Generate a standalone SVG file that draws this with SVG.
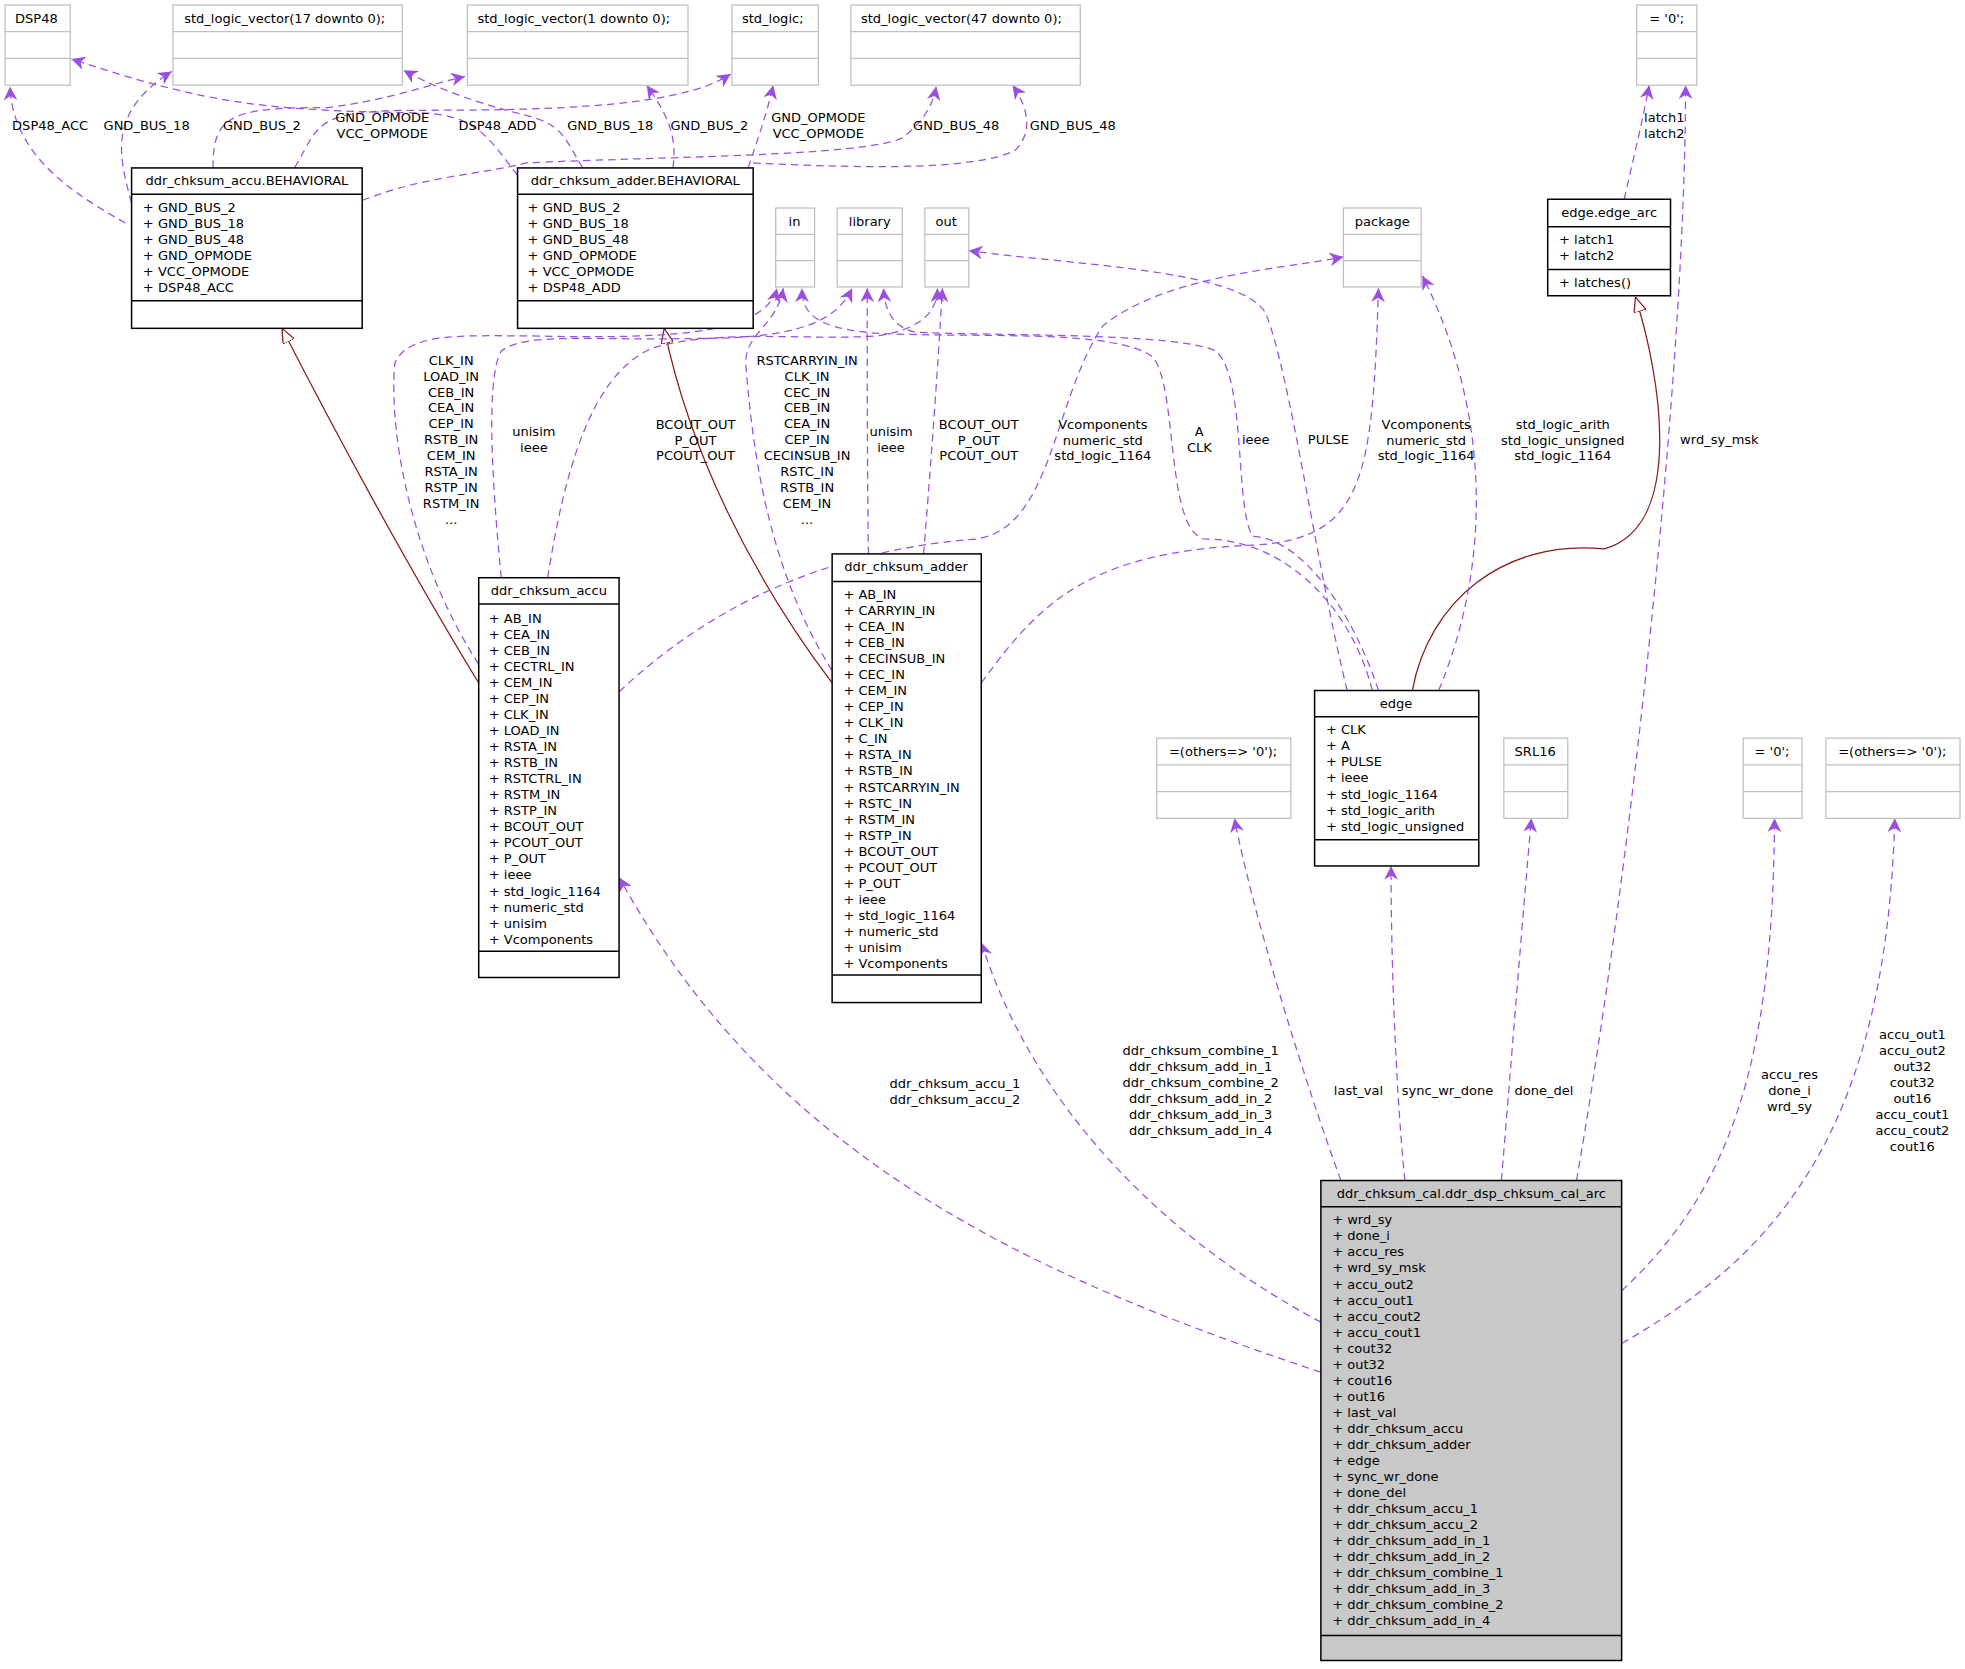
<svg xmlns="http://www.w3.org/2000/svg" width="1965" height="1669" viewBox="0 0 1965 1669">
<defs>
<style>
text{font-family:"DejaVu Sans","Liberation Sans",sans-serif;font-size:10.4px;fill:#000}
.g{fill:#fff;stroke:#bfbfbf;stroke-width:1}
.b{fill:#fff;stroke:#000;stroke-width:1.2}
.gr{fill:#c8c8c8;stroke:#000;stroke-width:1.2}
.d{fill:none;stroke:#9a4fe0;stroke-width:1;stroke-dasharray:6,4}
.h{fill:none;stroke:#8b1a1a;stroke-width:1}
.c{text-anchor:middle}
</style>
<marker id="a" viewBox="0 0 10 10" refX="10" refY="5" markerWidth="11" markerHeight="11" markerUnits="userSpaceOnUse" orient="auto"><path d="M0,0 L10,5 L0,10 L3,5 z" fill="#9a4fe0"/></marker>
<marker id="t" viewBox="0 0 12 10" refX="12" refY="5" markerWidth="12" markerHeight="10" markerUnits="userSpaceOnUse" orient="auto"><path d="M0,0 L12,5 L0,10 z" fill="#fff" stroke="#8b1a1a"/></marker>
</defs>
<rect width="1965" height="1669" fill="#fff"/>
<g transform="scale(1.2532)">
<g id="connectors">
<path class="d" marker-end="url(#a)" d="M100,178 C60,155 10,125 8,69"/>
<path class="d" marker-end="url(#a)" d="M105,162 C95,125 85,90 137,57"/>
<path class="d" marker-end="url(#a)" d="M170,134 C170,95 180,85 260,86 C310,80 340,68 371,61"/>
<path class="d" marker-end="url(#a)" d="M235,134 C255,100 250,90 320,88 C420,88 540,88 583,59"/>
<path class="d" marker-end="url(#a)" d="M413,140 C390,110 380,90 330,90 C220,88 170,85 57,47"/>
<path class="d" marker-end="url(#a)" d="M465,134 C450,110 450,100 420,92 C390,85 350,72 322,56"/>
<path class="d" marker-end="url(#a)" d="M537,134 C540,110 535,95 516,68"/>
<path class="d" marker-end="url(#a)" d="M597,134 C605,110 612,90 617,68"/>
<path class="d" marker-end="url(#a)" d="M289,160 C340,140 380,140 420,130 C520,125 690,125 720,110 C740,95 745,80 747,69"/>
<path class="d" marker-end="url(#a)" d="M601,130 C700,135 780,135 810,120 C825,105 820,85 808,68"/>
<path class="d" marker-end="url(#a)" d="M1296,159 C1305,120 1312,90 1316,68"/>
<path class="d" marker-end="url(#a)" d="M1258,942 C1300,700 1345,300 1345,68"/>
<path class="h" marker-end="url(#t)" d="M1127,551 C1140,480 1200,430 1280,438 C1345,420 1325,300 1305,237"/>
<path class="h" marker-end="url(#t)" d="M382,545 C330,460 270,350 225,262"/>
<path class="h" marker-end="url(#t)" d="M664,545 C600,460 550,360 530,262"/>
<path class="d" marker-end="url(#a)" d="M382,530 C330,450 310,350 315,290 C325,265 370,268 420,268 C520,270 610,270 620,230"/>
<path class="d" marker-end="url(#a)" d="M400,461 C392,380 388,300 400,280 C420,265 470,272 560,270 C650,270 670,250 680,230"/>
<path class="d" marker-end="url(#a)" d="M437,461 C450,380 470,300 520,278 C570,262 650,272 700,268 C740,262 748,245 748,230"/>
<path class="d" marker-end="url(#a)" d="M494,552 C560,490 650,440 780,430 C840,420 840,320 880,260 C930,220 1020,215 1072,205"/>
<path class="d" marker-end="url(#a)" d="M664,535 C610,450 600,350 595,290 C595,265 620,260 625,230"/>
<path class="d" marker-end="url(#a)" d="M693,442 C692,380 692,300 692,230"/>
<path class="d" marker-end="url(#a)" d="M737,442 C742,380 748,300 752,230"/>
<path class="d" marker-end="url(#a)" d="M783,545 C830,480 870,440 1000,435 C1090,430 1095,380 1100,230"/>
<path class="d" marker-end="url(#a)" d="M1095,551 C1080,490 1030,430 960,430 C930,420 940,310 920,285 C890,262 780,270 700,266 C650,262 640,250 640,230"/>
<path class="d" marker-end="url(#a)" d="M1100,551 C1080,490 1040,430 1000,428 C985,410 995,300 970,280 C940,265 780,268 730,265 C710,260 706,245 705,230"/>
<path class="d" marker-end="url(#a)" d="M1075,551 C1050,450 1030,300 1010,250 C990,215 860,212 773,200"/>
<path class="d" marker-end="url(#a)" d="M1148,551 C1190,450 1190,330 1135,220"/>
<path class="d" marker-end="url(#a)" d="M1070,942 C1040,860 1000,730 985,653"/>
<path class="d" marker-end="url(#a)" d="M1121,942 C1113,860 1110,760 1110,691"/>
<path class="d" marker-end="url(#a)" d="M1198,942 C1205,860 1215,730 1222,653"/>
<path class="d" marker-end="url(#a)" d="M1294,1030 C1380,950 1415,850 1416,653"/>
<path class="d" marker-end="url(#a)" d="M1294,1072 C1420,1000 1505,900 1512,653"/>
<path class="d" marker-end="url(#a)" d="M1054,1095 C830,1020 620,930 494,700"/>
<path class="d" marker-end="url(#a)" d="M1054,1055 C950,1000 830,900 783,752"/>
<g id="labels">
<text x="40" y="104" class="c">DSP48_ACC</text>
<text x="117" y="104" class="c">GND_BUS_18</text>
<text x="209" y="104" class="c">GND_BUS_2</text>
<text x="305" y="97" class="c">GND_OPMODE</text><text x="305" y="110" class="c">VCC_OPMODE</text>
<text x="397" y="104" class="c">DSP48_ADD</text>
<text x="487" y="104" class="c">GND_BUS_18</text>
<text x="566" y="104" class="c">GND_BUS_2</text>
<text x="653" y="97" class="c">GND_OPMODE</text><text x="653" y="110" class="c">VCC_OPMODE</text>
<text x="763" y="104" class="c">GND_BUS_48</text>
<text x="856" y="104" class="c">GND_BUS_48</text>
<text x="1328" y="97" class="c">latch1</text><text x="1328" y="110" class="c">latch2</text>
<text x="1372" y="354" class="c">wrd_sy_msk</text>
<text class="c"><tspan x="360" y="291">CLK_IN</tspan><tspan x="360" dy="12.7">LOAD_IN</tspan><tspan x="360" dy="12.7">CEB_IN</tspan><tspan x="360" dy="12.7">CEA_IN</tspan><tspan x="360" dy="12.7">CEP_IN</tspan><tspan x="360" dy="12.7">RSTB_IN</tspan><tspan x="360" dy="12.7">CEM_IN</tspan><tspan x="360" dy="12.7">RSTA_IN</tspan><tspan x="360" dy="12.7">RSTP_IN</tspan><tspan x="360" dy="12.7">RSTM_IN</tspan><tspan x="360" dy="12.7">...</tspan></text>
<text class="c"><tspan x="426" y="348">unisim</tspan><tspan x="426" dy="12.7">ieee</tspan></text>
<text class="c"><tspan x="555" y="342">BCOUT_OUT</tspan><tspan x="555" dy="12.7">P_OUT</tspan><tspan x="555" dy="12.7">PCOUT_OUT</tspan></text>
<text class="c"><tspan x="644" y="291">RSTCARRYIN_IN</tspan><tspan x="644" dy="12.7">CLK_IN</tspan><tspan x="644" dy="12.7">CEC_IN</tspan><tspan x="644" dy="12.7">CEB_IN</tspan><tspan x="644" dy="12.7">CEA_IN</tspan><tspan x="644" dy="12.7">CEP_IN</tspan><tspan x="644" dy="12.7">CECINSUB_IN</tspan><tspan x="644" dy="12.7">RSTC_IN</tspan><tspan x="644" dy="12.7">RSTB_IN</tspan><tspan x="644" dy="12.7">CEM_IN</tspan><tspan x="644" dy="12.7">...</tspan></text>
<text class="c"><tspan x="711" y="348">unisim</tspan><tspan x="711" dy="12.7">ieee</tspan></text>
<text class="c"><tspan x="781" y="342">BCOUT_OUT</tspan><tspan x="781" dy="12.7">P_OUT</tspan><tspan x="781" dy="12.7">PCOUT_OUT</tspan></text>
<text class="c"><tspan x="880" y="342">Vcomponents</tspan><tspan x="880" dy="12.7">numeric_std</tspan><tspan x="880" dy="12.7">std_logic_1164</tspan></text>
<text class="c"><tspan x="957" y="348">A</tspan><tspan x="957" dy="12.7">CLK</tspan></text>
<text x="1002" y="354" class="c">ieee</text>
<text x="1060" y="354" class="c">PULSE</text>
<text class="c"><tspan x="1138" y="342">Vcomponents</tspan><tspan x="1138" dy="12.7">numeric_std</tspan><tspan x="1138" dy="12.7">std_logic_1164</tspan></text>
<text class="c"><tspan x="1247" y="342">std_logic_arith</tspan><tspan x="1247" dy="12.7">std_logic_unsigned</tspan><tspan x="1247" dy="12.7">std_logic_1164</tspan></text>
<text x="1084" y="874" class="c">last_val</text>
<text x="1155" y="874" class="c">sync_wr_done</text>
<text x="1232" y="874" class="c">done_del</text>
<text class="c"><tspan x="1428" y="861">accu_res</tspan><tspan x="1428" dy="12.7">done_i</tspan><tspan x="1428" dy="12.7">wrd_sy</tspan></text>
<text class="c"><tspan x="1526" y="829">accu_out1</tspan><tspan x="1526" dy="12.8">accu_out2</tspan><tspan x="1526" dy="12.8">out32</tspan><tspan x="1526" dy="12.8">cout32</tspan><tspan x="1526" dy="12.8">out16</tspan><tspan x="1526" dy="12.8">accu_cout1</tspan><tspan x="1526" dy="12.8">accu_cout2</tspan><tspan x="1526" dy="12.8">cout16</tspan></text>
<text class="c"><tspan x="762" y="868">ddr_chksum_accu_1</tspan><tspan x="762" dy="12.8">ddr_chksum_accu_2</tspan></text>
<text class="c"><tspan x="958" y="842">ddr_chksum_combine_1</tspan><tspan x="958" dy="12.8">ddr_chksum_add_in_1</tspan><tspan x="958" dy="12.8">ddr_chksum_combine_2</tspan><tspan x="958" dy="12.8">ddr_chksum_add_in_2</tspan><tspan x="958" dy="12.8">ddr_chksum_add_in_3</tspan><tspan x="958" dy="12.8">ddr_chksum_add_in_4</tspan></text>
</g>
</g>
<g id="DSP48"><rect class="g" x="4" y="4" width="52" height="64"/><path class="g" d="M4,25.3H56M4,46.6H56"/><text x="12" y="18">DSP48</text></g>
<g id="slv17"><rect class="g" x="138" y="4" width="183" height="64"/><path class="g" d="M138,25.3H321M138,46.6H321"/><text x="147" y="18">std_logic_vector(17 downto 0);</text></g>
<g id="slv1"><rect class="g" x="373" y="4" width="176" height="64"/><path class="g" d="M373,25.3H549M373,46.6H549"/><text x="381" y="18">std_logic_vector(1 downto 0);</text></g>
<g id="stdlogic"><rect class="g" x="584" y="4" width="69" height="64"/><path class="g" d="M584,25.3H653M584,46.6H653"/><text x="592" y="18">std_logic;</text></g>
<g id="slv47"><rect class="g" x="679" y="4" width="183" height="64"/><path class="g" d="M679,25.3H862M679,46.6H862"/><text x="687" y="18">std_logic_vector(47 downto 0);</text></g>
<g id="zero_top"><rect class="g" x="1306" y="4" width="48" height="64"/><path class="g" d="M1306,25.3H1354M1306,46.6H1354"/><text x="1330" y="18" class="c">= '0';</text></g>
<g id="in"><rect class="g" x="619" y="166" width="31" height="63"/><path class="g" d="M619,187H650M619,208H650"/><text x="634" y="180" class="c">in</text></g>
<g id="library"><rect class="g" x="668" y="166" width="52" height="63"/><path class="g" d="M668,187H720M668,208H720"/><text x="694" y="180" class="c">library</text></g>
<g id="out"><rect class="g" x="738" y="166" width="35" height="63"/><path class="g" d="M738,187H773M738,208H773"/><text x="755" y="180" class="c">out</text></g>
<g id="package"><rect class="g" x="1072" y="166" width="62" height="63"/><path class="g" d="M1072,187H1134M1072,208H1134"/><text x="1103" y="180" class="c">package</text></g>
<g id="accu_beh"><rect class="b" x="105" y="134" width="184" height="128"/><path class="b" d="M105,155H289M105,240H289"/><text x="197" y="148" class="c">ddr_chksum_accu.BEHAVIORAL</text>
<text><tspan x="114" y="169">+ GND_BUS_2</tspan><tspan x="114" dy="12.8">+ GND_BUS_18</tspan><tspan x="114" dy="12.8">+ GND_BUS_48</tspan><tspan x="114" dy="12.8">+ GND_OPMODE</tspan><tspan x="114" dy="12.8">+ VCC_OPMODE</tspan><tspan x="114" dy="12.8">+ DSP48_ACC</tspan></text></g>
<g id="adder_beh"><rect class="b" x="413" y="134" width="188" height="128"/><path class="b" d="M413,155H601M413,240H601"/><text x="507" y="148" class="c">ddr_chksum_adder.BEHAVIORAL</text>
<text><tspan x="421" y="169">+ GND_BUS_2</tspan><tspan x="421" dy="12.8">+ GND_BUS_18</tspan><tspan x="421" dy="12.8">+ GND_BUS_48</tspan><tspan x="421" dy="12.8">+ GND_OPMODE</tspan><tspan x="421" dy="12.8">+ VCC_OPMODE</tspan><tspan x="421" dy="12.8">+ DSP48_ADD</tspan></text></g>
<g id="edge_arc"><rect class="b" x="1235" y="159" width="98" height="77"/><path class="b" d="M1235,181H1333M1235,215H1333"/><text x="1284" y="173" class="c">edge.edge_arc</text>
<text><tspan x="1244" y="195">+ latch1</tspan><tspan x="1244" dy="12.8">+ latch2</tspan></text><text x="1244" y="229">+ latches()</text></g>
<g id="accu"><rect class="b" x="382" y="461" width="112" height="319"/><path class="b" d="M382,482H494M382,759H494"/><text x="438" y="475" class="c">ddr_chksum_accu</text>
<text><tspan x="390" y="497">+ AB_IN</tspan><tspan x="390" dy="12.8">+ CEA_IN</tspan><tspan x="390" dy="12.8">+ CEB_IN</tspan><tspan x="390" dy="12.8">+ CECTRL_IN</tspan><tspan x="390" dy="12.8">+ CEM_IN</tspan><tspan x="390" dy="12.8">+ CEP_IN</tspan><tspan x="390" dy="12.8">+ CLK_IN</tspan><tspan x="390" dy="12.8">+ LOAD_IN</tspan><tspan x="390" dy="12.8">+ RSTA_IN</tspan><tspan x="390" dy="12.8">+ RSTB_IN</tspan><tspan x="390" dy="12.8">+ RSTCTRL_IN</tspan><tspan x="390" dy="12.8">+ RSTM_IN</tspan><tspan x="390" dy="12.8">+ RSTP_IN</tspan><tspan x="390" dy="12.8">+ BCOUT_OUT</tspan><tspan x="390" dy="12.8">+ PCOUT_OUT</tspan><tspan x="390" dy="12.8">+ P_OUT</tspan><tspan x="390" dy="12.8">+ ieee</tspan><tspan x="390" dy="12.8">+ std_logic_1164</tspan><tspan x="390" dy="12.8">+ numeric_std</tspan><tspan x="390" dy="12.8">+ unisim</tspan><tspan x="390" dy="12.8">+ Vcomponents</tspan></text></g>
<g id="adder"><rect class="b" x="664" y="442" width="119" height="358"/><path class="b" d="M664,464H783M664,778H783"/><text x="723" y="456" class="c">ddr_chksum_adder</text>
<text><tspan x="673" y="478">+ AB_IN</tspan><tspan x="673" dy="12.8">+ CARRYIN_IN</tspan><tspan x="673" dy="12.8">+ CEA_IN</tspan><tspan x="673" dy="12.8">+ CEB_IN</tspan><tspan x="673" dy="12.8">+ CECINSUB_IN</tspan><tspan x="673" dy="12.8">+ CEC_IN</tspan><tspan x="673" dy="12.8">+ CEM_IN</tspan><tspan x="673" dy="12.8">+ CEP_IN</tspan><tspan x="673" dy="12.8">+ CLK_IN</tspan><tspan x="673" dy="12.8">+ C_IN</tspan><tspan x="673" dy="12.8">+ RSTA_IN</tspan><tspan x="673" dy="12.8">+ RSTB_IN</tspan><tspan x="673" dy="12.8">+ RSTCARRYIN_IN</tspan><tspan x="673" dy="12.8">+ RSTC_IN</tspan><tspan x="673" dy="12.8">+ RSTM_IN</tspan><tspan x="673" dy="12.8">+ RSTP_IN</tspan><tspan x="673" dy="12.8">+ BCOUT_OUT</tspan><tspan x="673" dy="12.8">+ PCOUT_OUT</tspan><tspan x="673" dy="12.8">+ P_OUT</tspan><tspan x="673" dy="12.8">+ ieee</tspan><tspan x="673" dy="12.8">+ std_logic_1164</tspan><tspan x="673" dy="12.8">+ numeric_std</tspan><tspan x="673" dy="12.8">+ unisim</tspan><tspan x="673" dy="12.8">+ Vcomponents</tspan></text></g>
<g id="edge"><rect class="b" x="1049" y="551" width="131" height="140"/><path class="b" d="M1049,572H1180M1049,670H1180"/><text x="1114" y="565" class="c">edge</text>
<text><tspan x="1058" y="586">+ CLK</tspan><tspan x="1058" dy="12.8">+ A</tspan><tspan x="1058" dy="12.8">+ PULSE</tspan><tspan x="1058" dy="12.8">+ ieee</tspan><tspan x="1058" dy="12.8">+ std_logic_1164</tspan><tspan x="1058" dy="12.8">+ std_logic_arith</tspan><tspan x="1058" dy="12.8">+ std_logic_unsigned</tspan></text></g>
<g id="others1"><rect class="g" x="923" y="589" width="107" height="64"/><path class="g" d="M923,610.3H1030M923,631.6H1030"/><text x="976" y="603" class="c">=(others=&gt; '0');</text></g>
<g id="SRL16"><rect class="g" x="1200" y="589" width="51" height="64"/><path class="g" d="M1200,610.3H1251M1200,631.6H1251"/><text x="1225" y="603" class="c">SRL16</text></g>
<g id="zero2"><rect class="g" x="1391" y="589" width="47" height="64"/><path class="g" d="M1391,610.3H1438M1391,631.6H1438"/><text x="1414" y="603" class="c">= '0';</text></g>
<g id="others2"><rect class="g" x="1457" y="589" width="107" height="64"/><path class="g" d="M1457,610.3H1564M1457,631.6H1564"/><text x="1510" y="603" class="c">=(others=&gt; '0');</text></g>
<g id="cal"><rect class="gr" x="1054" y="942" width="240" height="383"/><path class="b" d="M1054,963H1294M1054,1305H1294"/><text x="1174" y="956" class="c">ddr_chksum_cal.ddr_dsp_chksum_cal_arc</text>
<text><tspan x="1063" y="977">+ wrd_sy</tspan><tspan x="1063" dy="12.8">+ done_i</tspan><tspan x="1063" dy="12.8">+ accu_res</tspan><tspan x="1063" dy="12.8">+ wrd_sy_msk</tspan><tspan x="1063" dy="12.8">+ accu_out2</tspan><tspan x="1063" dy="12.8">+ accu_out1</tspan><tspan x="1063" dy="12.8">+ accu_cout2</tspan><tspan x="1063" dy="12.8">+ accu_cout1</tspan><tspan x="1063" dy="12.8">+ cout32</tspan><tspan x="1063" dy="12.8">+ out32</tspan><tspan x="1063" dy="12.8">+ cout16</tspan><tspan x="1063" dy="12.8">+ out16</tspan><tspan x="1063" dy="12.8">+ last_val</tspan><tspan x="1063" dy="12.8">+ ddr_chksum_accu</tspan><tspan x="1063" dy="12.8">+ ddr_chksum_adder</tspan><tspan x="1063" dy="12.8">+ edge</tspan><tspan x="1063" dy="12.8">+ sync_wr_done</tspan><tspan x="1063" dy="12.8">+ done_del</tspan><tspan x="1063" dy="12.8">+ ddr_chksum_accu_1</tspan><tspan x="1063" dy="12.8">+ ddr_chksum_accu_2</tspan><tspan x="1063" dy="12.8">+ ddr_chksum_add_in_1</tspan><tspan x="1063" dy="12.8">+ ddr_chksum_add_in_2</tspan><tspan x="1063" dy="12.8">+ ddr_chksum_combine_1</tspan><tspan x="1063" dy="12.8">+ ddr_chksum_add_in_3</tspan><tspan x="1063" dy="12.8">+ ddr_chksum_combine_2</tspan><tspan x="1063" dy="12.8">+ ddr_chksum_add_in_4</tspan></text></g>
</g>
</svg>
